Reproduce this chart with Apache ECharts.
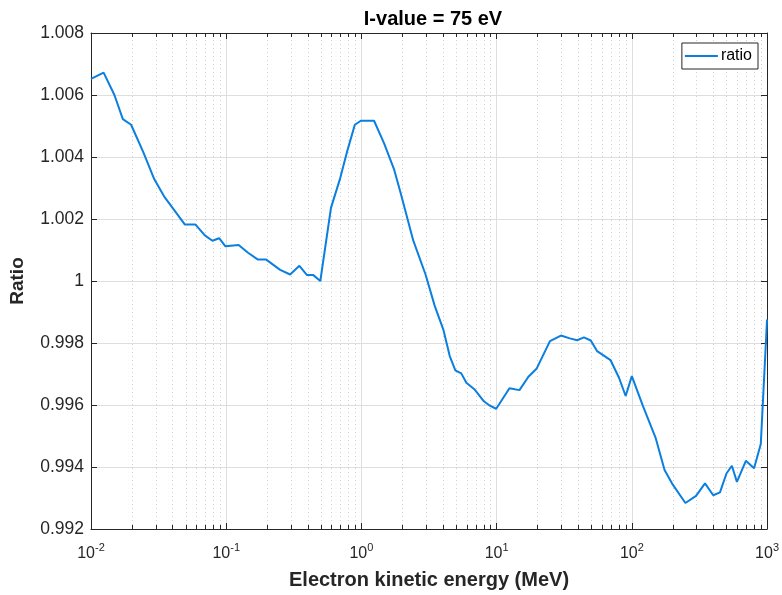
<!DOCTYPE html>
<html>
<head>
<meta charset="utf-8">
<script src="https://cdn.jsdelivr.net/npm/echarts@6/dist/echarts.min.js"></script>
<style>
  html, body { margin: 0; padding: 0; background: #ffffff; }
  #chart { width: 782px; height: 595px; }
</style>
</head>
<body>
<div id="chart"></div>
<script>
// Electron kinetic energy (MeV)
const energy = [
  0.01, 0.0124, 0.0149, 0.0172, 0.0198, 0.0244, 0.0294, 0.0347, 0.0495, 0.0593,
  0.0695, 0.0791, 0.0887, 0.0987, 0.1236, 0.145, 0.1718, 0.1977, 0.2507, 0.297,
  0.3477, 0.396, 0.4408, 0.4966, 0.5954, 0.697, 0.790, 0.894, 0.99, 1.24,
  1.469, 1.741, 1.95, 2.42, 2.98, 3.49, 4.03, 4.5, 4.95, 5.48,
  5.97, 6.84, 8.0, 8.97, 9.93, 12.44, 14.75, 17.18, 19.8, 24.8,
  29.9, 34.8, 39.4, 44.2, 49.7, 55.3, 61.3, 69.5, 80.4, 90,
  100, 120.7, 149.7, 174.6, 200.9, 249, 298.5, 347.7, 400, 448.6,
  501, 549.5, 598.6, 697, 801.7, 899, 1000
];
// Stopping-power ratio at I = 75 eV
const ratio = [
  1.00652, 1.00672, 1.0060, 1.00522, 1.00504, 1.00415, 1.00328, 1.00273, 1.00182, 1.00182,
  1.00147, 1.00130, 1.00138, 1.00112, 1.00116, 1.00091, 1.00069, 1.00069, 1.00036, 1.00021,
  1.00049, 1.00019, 1.00019, 1.0000, 1.00236, 1.00332, 1.00423, 1.00504, 1.00517, 1.00517,
  1.00445, 1.00361, 1.00284, 1.00130, 1.00021, 0.99919, 0.99844, 0.99758, 0.99712, 0.99702,
  0.99672, 0.99651, 0.99613, 0.99597, 0.99588, 0.99654, 0.99648, 0.99691, 0.99718, 0.99806,
  0.99824, 0.99815, 0.99809, 0.99818, 0.99808, 0.99774, 0.99761, 0.99745, 0.99688, 0.99629,
  0.99693, 0.99597, 0.99495, 0.99390, 0.99343, 0.99284, 0.99307, 0.99347, 0.99309, 0.99318,
  0.99379, 0.99404, 0.99352, 0.99420, 0.99396, 0.99474, 0.99876
];
// Axis ranges and ticks
const xRange = [0.01, 1000];
const yRange = [0.992, 1.008];
const yStep = 0.002;
// Minor log ticks (2..9 in each decade)
const minorX = [];
for (let e = -2; e < 3; e++) {
  for (let m = 2; m <= 9; m++) minorX.push(+(m * Math.pow(10, e)).toPrecision(3));
}

const FONT = 'Liberation Sans';
const AX = '#262626';
const GRID = '#dedede';
const LINE = '#0a7fe0';

const chart = echarts.init(document.getElementById('chart'), null, { renderer: 'canvas' });

const xLabel = {
  fontFamily: FONT,
  margin: 14,
  formatter: function (v) {
    const e = Math.round(Math.log10(v));
    return '{b|10}{s|' + e + '}';
  },
  rich: {
    b: { fontFamily: FONT, fontSize: 16, color: AX, lineHeight: 19, verticalAlign: 'bottom' },
    s: { fontFamily: FONT, fontSize: 11, color: AX, lineHeight: 19, verticalAlign: 'bottom', padding: [0, 0, 9, 0] }
  }
};

const option = {
  backgroundColor: '#ffffff',
  animation: false,
  title: {
    text: 'I-value = 75 eV',
    left: 428, top: 4, textAlign: 'center',
    textStyle: { fontFamily: FONT, fontSize: 20, fontWeight: 'bold', color: '#000000' }
  },
  legend: {
    right: 24, top: 43,
    orient: 'horizontal',
    backgroundColor: '#ffffff',
    borderColor: AX, borderWidth: 1, borderRadius: 0,
    padding: [5, 6, 5, 3],
    itemWidth: 33, itemHeight: 2, itemGap: 4,
    textStyle: { fontFamily: FONT, fontSize: 16, color: '#000000', padding: [0, 0, 0, -2] },
    data: [{ name: 'ratio', icon: 'rect', itemStyle: { color: LINE } }]
  },
  grid: { left: 89, right: 14, top: 33, bottom: 65, containLabel: false },
  xAxis: [
    {
      type: 'log', logBase: 10, min: xRange[0], max: xRange[1],
      name: 'Electron kinetic energy (MeV)', nameLocation: 'middle', nameGap: 41,
      nameTextStyle: { fontFamily: FONT, fontSize: 20, fontWeight: 'bold', color: AX },
      axisLine: { show: true, lineStyle: { color: AX, width: 1 } },
      axisTick: { show: true, inside: true, length: 6, lineStyle: { color: AX } },
      axisLabel: xLabel,
      splitLine: { show: true, lineStyle: { color: GRID, width: 1 } },
      minorTick: { show: false }, minorSplitLine: { show: false }
    },
    {
      type: 'log', logBase: 10, min: xRange[0], max: xRange[1], position: 'top',
      axisLine: { show: true, lineStyle: { color: AX, width: 1 } },
      axisTick: { show: true, inside: true, length: 6, lineStyle: { color: AX } },
      axisLabel: { show: false },
      splitLine: { show: false }
    }
  ],
  yAxis: [
    {
      type: 'value', min: yRange[0], max: yRange[1], interval: yStep,
      name: 'Ratio', nameLocation: 'middle', nameGap: 64, nameRotate: 90,
      nameTextStyle: { fontFamily: FONT, fontSize: 19, fontWeight: 'bold', color: AX },
      axisLine: { show: true, lineStyle: { color: AX, width: 1 } },
      axisTick: { show: true, inside: true, length: 6, lineStyle: { color: AX } },
      axisLabel: {
        fontFamily: FONT, fontSize: 17.5, color: AX, margin: 7,
        formatter: function (v) { return String(parseFloat(v.toFixed(3))); }
      },
      splitLine: { show: true, lineStyle: { color: GRID, width: 1 } }
    },
    {
      type: 'value', min: yRange[0], max: yRange[1], interval: yStep, position: 'right',
      axisLine: { show: true, lineStyle: { color: AX, width: 1 } },
      axisTick: { show: true, inside: true, length: 6, lineStyle: { color: AX } },
      axisLabel: { show: false },
      splitLine: { show: false }
    }
  ],
  series: [
    {
      // dotted minor grid plus minor ticks on bottom and top edges
      type: 'custom',
      name: 'minor',
      silent: true,
      xAxisIndex: 0, yAxisIndex: 0,
      z: 1,
      data: minorX.map(function (v) { return [v]; }),
      renderItem: function (params, api) {
        const x = api.value(0);
        const pb = api.coord([x, yRange[0]]);
        const pt = api.coord([x, yRange[1]]);
        const lx = Math.round(pb[0]) + 0.5;
        return {
          type: 'group',
          children: [
            { type: 'line', shape: { x1: lx, y1: pb[1], x2: lx, y2: pt[1] },
              style: { stroke: '#cfcfcf', lineWidth: 1, lineDash: [1, 3] } },
            { type: 'line', shape: { x1: lx, y1: pb[1], x2: lx, y2: pb[1] - 4 },
              style: { stroke: AX, lineWidth: 1 } },
            { type: 'line', shape: { x1: lx, y1: pt[1], x2: lx, y2: pt[1] + 4 },
              style: { stroke: AX, lineWidth: 1 } }
          ]
        };
      }
    },
    {
      type: 'line',
      name: 'ratio',
      xAxisIndex: 0, yAxisIndex: 0,
      data: energy.map(function (e, i) { return [e, ratio[i]]; }),
      showSymbol: false, symbol: 'none',
      lineStyle: { color: LINE, width: 2 },
      itemStyle: { color: LINE },
      z: 5
    }
  ]
};

chart.setOption(option);
</script>
</body>
</html>
